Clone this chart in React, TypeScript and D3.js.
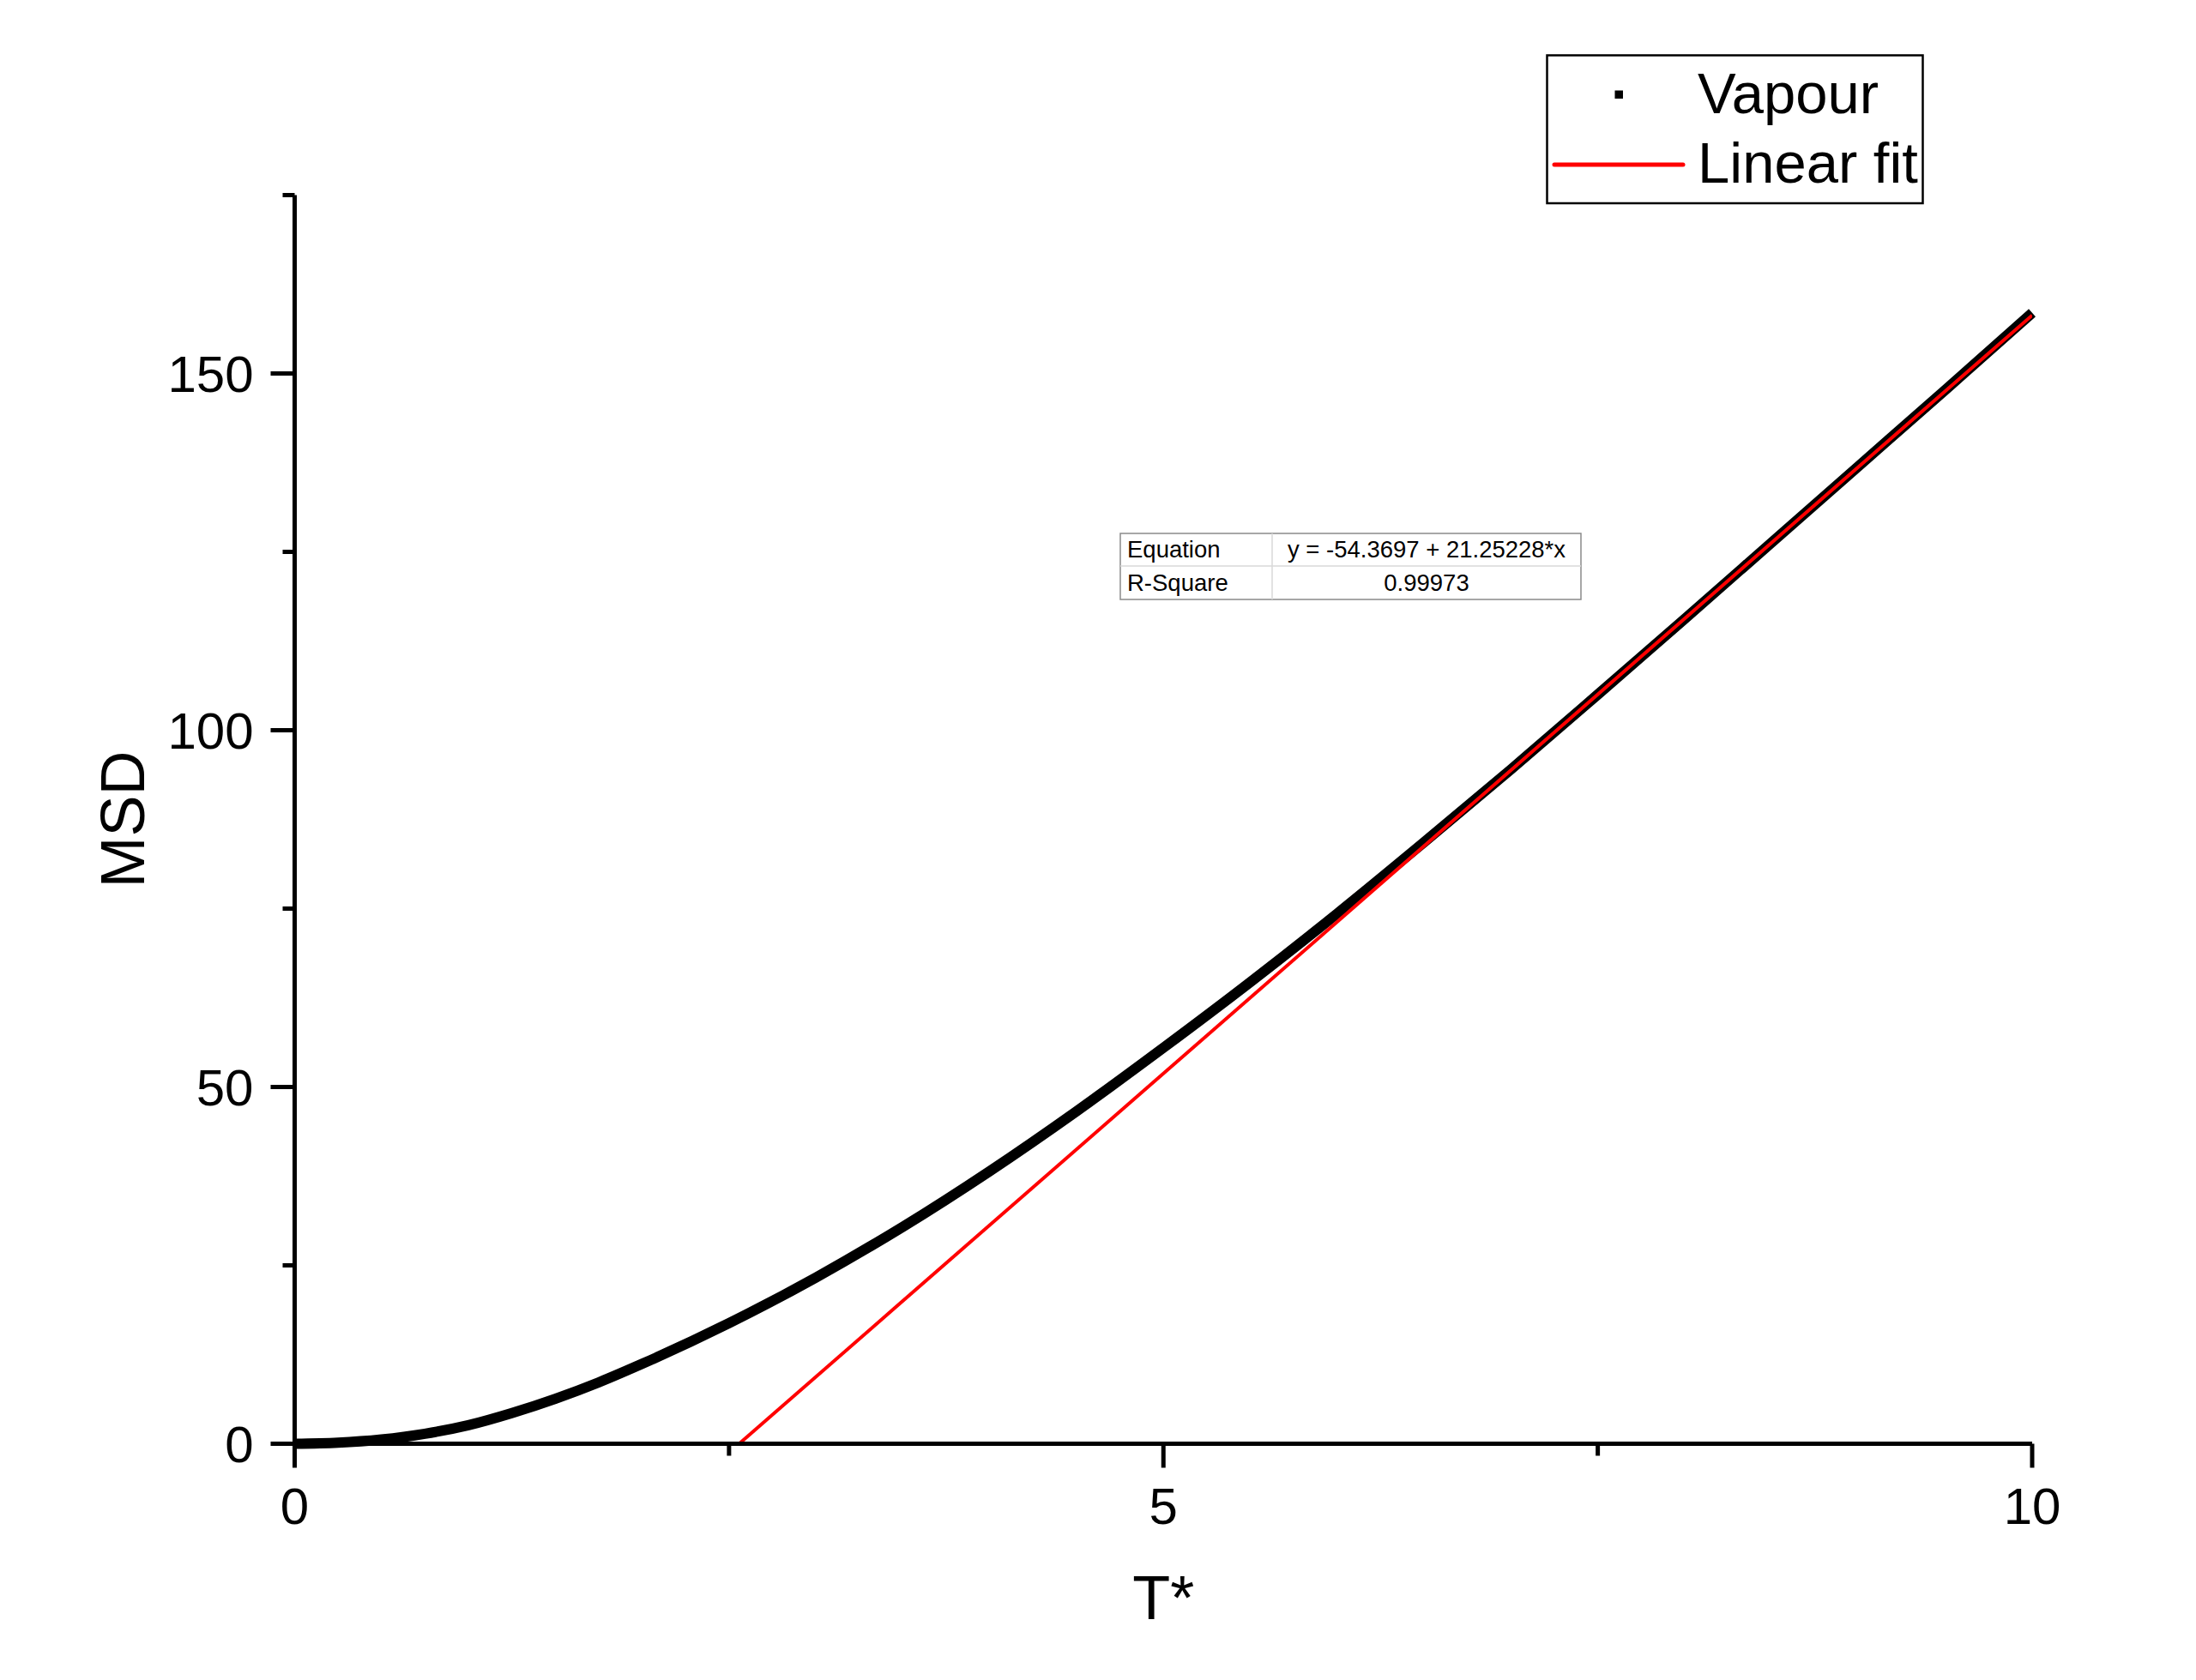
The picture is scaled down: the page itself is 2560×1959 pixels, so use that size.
import React from "react";
import * as d3 from "d3";

// ---- data ----
const timeValues = [0, 0.25, 0.5, 0.75, 1, 1.25, 1.5, 1.75, 2, 2.5, 3, 3.5, 4, 4.5, 5, 5.5, 6, 6.5, 7, 7.5, 8, 8.5, 9, 9.5, 10];
const msdValues = [0, 0.15, 0.6, 1.4, 2.6, 4.3, 6.3, 8.6, 11.2, 16.9, 23.3, 30.4, 38.2, 46.6, 55.5, 64.7, 74.3, 84.3, 94.5, 105.0, 115.6, 126.3, 137.0, 147.7, 158.5];
const fitIntercept = -54.3697;
const fitSlope = 21.25228;
const fitRSquare = "0.99973";
const fitEquationText = "y = -54.3697 + 21.25228*x";
const xMajorTicks = [0, 5, 10];
const xMinorTicks = [2.5, 7.5];
const yMajorTicks = [0, 50, 100, 150];
const yMinorTicks = [25, 75, 125, 175];
const xTitle = "T*";
const yTitle = "MSD";
const legendLabels = ["Vapour", "Linear fit"];

const FONT = "'Liberation Sans', Arial, Helvetica, sans-serif";

export default function App() {
  const W = 2560, H = 1959;
  const x = d3.scaleLinear().domain([0, 10]).range([343.5, 2369]);
  const y = d3.scaleLinear().domain([0, 175]).range([1683.5, 227.5]);

  const data = timeValues.map((t, i) => ({ t, v: msdValues[i] }));
  const line = d3
    .line<{ t: number; v: number }>()
    .x((d) => x(d.t))
    .y((d) => y(d.v))
    .curve(d3.curveMonotoneX);
  const straight = d3
    .line<{ t: number; v: number }>()
    .x((d) => x(d.t))
    .y((d) => y(d.v));

  const fitStart = -fitIntercept / fitSlope;
  const fitData = [fitStart, 10].map((t) => ({ t, v: fitIntercept + fitSlope * t }));

  const axisW = 5;
  const majorLen = 28;
  const minorLen = 14;
  const x0 = x(0), y0 = y(0);

  return (
    <svg width={W} height={H} viewBox={`0 0 ${W} ${H}`} style={{ position: "absolute", left: 0, top: 0, background: "#fff" }}>
      <rect x={0} y={0} width={W} height={H} fill="#fff" />
      <defs>
        <clipPath id="plotclip">
          <rect x={x(0)} y={y(175)} width={x(10) - x(0)} height={y(0) - y(175)} />
        </clipPath>
      </defs>

      {/* data */}
      <path d={line(data) || ""} fill="none" stroke="#000" strokeWidth={12} strokeLinecap="butt" strokeLinejoin="round" />
      <g clipPath="url(#plotclip)">
        <path d={straight(fitData) || ""} fill="none" stroke="#ff0000" strokeWidth={4} />
      </g>

      {/* axes */}
      <g stroke="#000" strokeWidth={axisW} fill="none">
        <line x1={x0} y1={y(175)} x2={x0} y2={y0 + majorLen} />
        <line x1={x0 - majorLen} y1={y0} x2={x(10)} y2={y0} />
        {yMajorTicks.filter((v) => v !== 0).map((v) => (
          <line key={"ym" + v} x1={x0 - majorLen} y1={y(v)} x2={x0} y2={y(v)} />
        ))}
        {yMinorTicks.map((v) => (
          <line key={"yn" + v} x1={x0 - minorLen} y1={y(v)} x2={x0} y2={y(v)} />
        ))}
        {xMajorTicks.filter((v) => v !== 0).map((v) => (
          <line key={"xm" + v} x1={x(v)} y1={y0} x2={x(v)} y2={y0 + majorLen} />
        ))}
        {xMinorTicks.map((v) => (
          <line key={"xn" + v} x1={x(v)} y1={y0} x2={x(v)} y2={y0 + minorLen} />
        ))}
      </g>

      <g fontFamily={FONT} fontSize={60} fill="#000">
        {yMajorTicks.map((v) => (
          <text key={"yl" + v} x={x0 - majorLen - 20} y={y(v)} dy="0.36em" textAnchor="end">{v}</text>
        ))}
        {xMajorTicks.map((v) => (
          <text key={"xl" + v} x={x(v)} y={1777} textAnchor="middle">{v}</text>
        ))}
      </g>

      <text x={(x(0) + x(10)) / 2} y={1888} textAnchor="middle" fontFamily={FONT} fontSize={72}>{xTitle}</text>
      <text transform={`translate(168, ${(y(0) + y(175)) / 2}) rotate(-90)`} textAnchor="middle" fontFamily={FONT} fontSize={72}>{yTitle}</text>

      {/* legend */}
      <rect x={1803.5} y={64.5} width={438} height={172.5} fill="#fff" stroke="#000" strokeWidth={2.5} />
      <rect x={1882.5} y={105.5} width={9.5} height={9.5} fill="#000" />
      <line x1={1812} y1={192} x2={1962} y2={192} stroke="#ff0000" strokeWidth={5} strokeLinecap="round" />
      <g fontFamily={FONT} fontSize={67} fill="#000">
        <text x={1979} y={132}>{legendLabels[0]}</text>
        <text x={1979} y={213}>{legendLabels[1]}</text>
      </g>

      {/* fit table */}
      <g>
        <rect x={1306} y={622} width={537} height={77} fill="#fff" stroke="#8a8a8a" strokeWidth={1.5} />
        <line x1={1306} y1={660} x2={1843} y2={660} stroke="#d8d8d8" strokeWidth={1.5} />
        <line x1={1483} y1={622} x2={1483} y2={699} stroke="#d8d8d8" strokeWidth={1.5} />
        <g fontFamily={FONT} fontSize={27.5} fill="#000">
          <text x={1314} y={650}>Equation</text>
          <text x={1314} y={689}>R-Square</text>
          <text x={1663} y={650} textAnchor="middle">{fitEquationText}</text>
          <text x={1663} y={689} textAnchor="middle">{fitRSquare}</text>
        </g>
      </g>
    </svg>
  );
}
